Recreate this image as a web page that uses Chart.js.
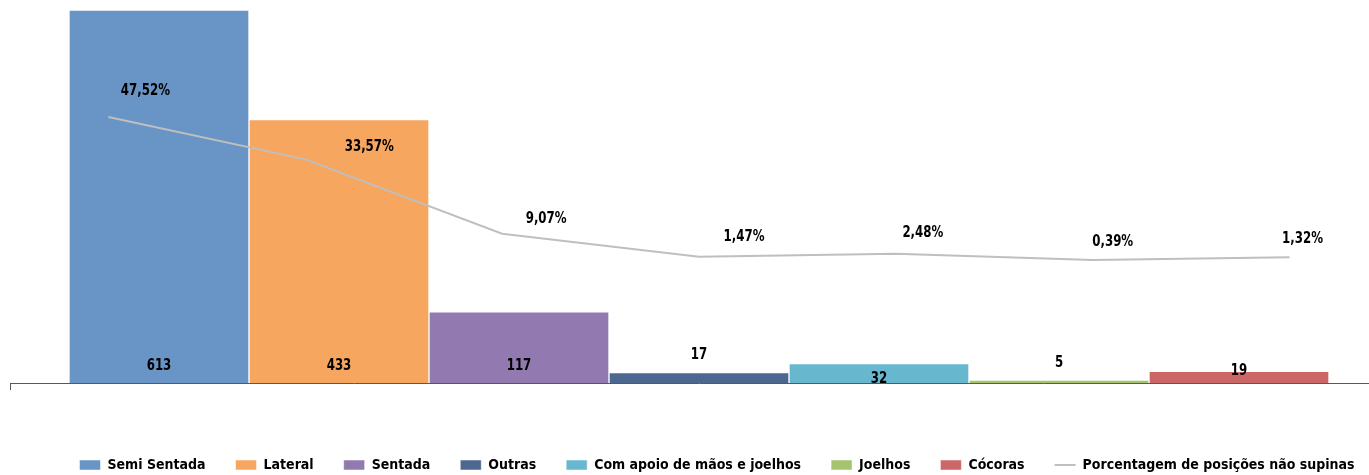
<!DOCTYPE html>
<html>
<head>
<meta charset="utf-8">
<script src="https://cdn.jsdelivr.net/npm/chart.js@4"></script>
<style>
  html, body { margin: 0; padding: 0; background: #fff; overflow: hidden; }
  #wrap { width: 1392px; height: 475px; }
</style>
</head>
<body>
<div id="wrap"><canvas id="myChart" width="1392" height="475"></canvas></div>
<script>
// posições (uma barra por série)
var positions = ['Semi Sentada', 'Lateral', 'Sentada', 'Outras', 'Com apoio de mãos e joelhos', 'Joelhos', 'Cócoras'];
var counts = [613, 433, 117, 17, 32, 5, 19];
var percents = [47.52, 33.57, 9.07, 1.47, 2.48, 0.39, 1.32];
var lineName = 'Porcentagem de posições não supinas';

var barColors = ['#6894C6', '#F7A660', '#927AB0', '#4C6890', '#67B8CF', '#A5C46E', '#CB6766'];
var lineColor = '#BFBFBF';

// where the labels sit, as in the original
var barLabelLift = [17, 17, 17, 28, 4, 20, 12];
var lineLabelShift = [[37, -26], [64, -13], [44, -15], [45, -20], [27, -21], [20, -18], [13, -18]];

var fontList = '"Liberation Sans Narrow", "DejaVu Sans Condensed", "Noto Sans", sans-serif';

function fmtPct(v) {
    return v.toFixed(2).replace('.', ',') + '%';
}

// narrow bold text, a bit like Calibri
function narrowText(ctx, txt, x, y) {
    ctx.save();
    ctx.translate(x, y);
    ctx.scale(0.82, 1);
    ctx.fillText(txt, 0, 0);
    ctx.restore();
}

var valueLabels = {
    id: 'valueLabels',
    afterDatasetsDraw: function(chart) {
        var ctx = chart.ctx;
        var base = chart.scales.y.getPixelForValue(0);
        ctx.save();
        ctx.font = 'bold 16px ' + fontList;
        ctx.fillStyle = '#000';
        ctx.textAlign = 'center';
        ctx.textBaseline = 'middle';
        chart.data.datasets.forEach(function(ds, i) {
            var meta = chart.getDatasetMeta(i);
            if (ds.type === 'line') {
                meta.data.forEach(function(pt, j) {
                    var s = lineLabelShift[j];
                    narrowText(ctx, fmtPct(percents[j]), pt.x + s[0], pt.y + s[1]);
                });
            } else {
                var bar = meta.data[0];
                narrowText(ctx, String(counts[i]), bar.x, base - barLabelLift[i]);
            }
        });
        ctx.restore();
    }
};

var legendShift = {
    id: 'legendShift',
    afterLayout: function(chart) {
        chart.legend.left += 18;
        chart.legend.right += 18;
    }
};

// x runs 0..7: the bar group sits in the middle, the line points at the centre of each seventh
var datasets = [];
positions.forEach(function(name, i) {
    datasets.push({
        label: name,
        data: [{ x: positions.length / 2, y: counts[i] }],
        backgroundColor: barColors[i],
        borderColor: 'rgba(255,255,255,0.5)',
        borderWidth: 1,
        pointStyle: 'rect',
        yAxisID: 'y',
        barThickness: 180,
        order: 1
    });
});
datasets.push({
    type: 'line',
    label: lineName,
    data: percents.map(function(v, i) { return { x: i + 0.5, y: v }; }),
    borderColor: lineColor,
    backgroundColor: lineColor,
    borderWidth: 2,
    tension: 0,
    pointRadius: 0,
    pointHoverRadius: 0,
    pointStyle: 'line',
    pointBorderColor: lineColor,
    pointBorderWidth: 2,
    yAxisID: 'y2',
    order: 0   // line over the bars
});

var chart = new Chart(document.getElementById('myChart'), {
    type: 'bar',
    data: { datasets: datasets },
    plugins: [valueLabels, legendShift],
    options: {
        responsive: false,
        animation: false,
        layout: { padding: { top: 10, left: 10, right: 4, bottom: -7 } },
        plugins: {
            tooltip: { enabled: false },
            legend: {
                position: 'bottom',
                labels: {
                    usePointStyle: true,
                    pointStyleWidth: 21,
                    boxHeight: 10,
                    padding: 30,
                    color: '#000',
                    font: { family: fontList, size: 14, weight: 'bold' },
                    sort: function(a, b) { return a.datasetIndex - b.datasetIndex; }
                }
            }
        },
        scales: {
            x: {
                type: 'linear',
                min: 0,
                max: positions.length,
                offset: false,
                ticks: { display: false },
                afterBuildTicks: function(axis) {
                    axis.ticks = [{ value: 0 }, { value: positions.length }];
                },
                grid: { display: true, offset: false, drawOnChartArea: false, drawTicks: true, tickLength: 7, color: '#595959' },
                border: { display: true, color: '#595959', width: 1 },
                afterFit: function(axis) { axis.height = 45; }
            },
            y: {
                display: false,
                min: 0,
                max: 613
            },
            y2: {
                display: false,
                position: 'right',
                min: -40.14,
                max: 82.8
            }
        }
    }
});
</script>
</body>
</html>
